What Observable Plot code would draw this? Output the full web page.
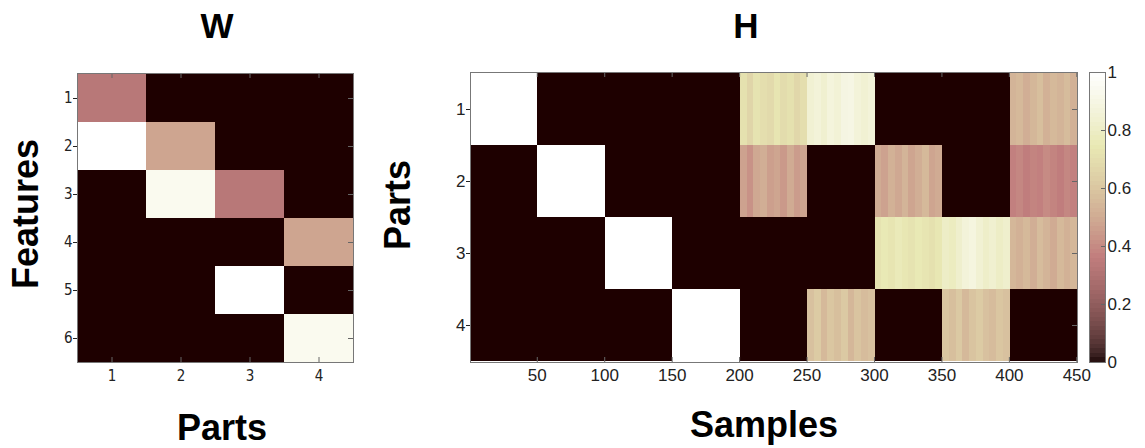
<!DOCTYPE html>
<html>
<head>
<meta charset="utf-8">
<script src="https://cdn.jsdelivr.net/npm/d3@7"></script>
<script src="https://cdn.jsdelivr.net/npm/@observablehq/plot@0.6"></script>
<style>
  body { margin: 0; background: #fff; }
  #root { position: relative; width: 1145px; height: 448px; overflow: hidden; font-family: "Liberation Sans", Arial, sans-serif; }
  .panel { position: absolute; top: 0; }
  .panel svg { overflow: visible; background: transparent; }
  .lbl { position: absolute; font-weight: bold; font-size: 36px; line-height: 1; color: #000; white-space: nowrap; }
</style>
</head>
<body>
<div id="root"></div>
<script>
// ---- W: features x parts ----
const wParts = [1, 2, 3, 4];
const wFeatures = [1, 2, 3, 4, 5, 6];
const wRow1 = [0.33, 0, 0, 0];
const wRow2 = [1, 0.48, 0, 0];
const wRow3 = [0, 0.94, 0.33, 0];
const wRow4 = [0, 0, 0, 0.48];
const wRow5 = [0, 0, 1, 0];
const wRow6 = [0, 0, 0, 0.94];
const wRows = [wRow1, wRow2, wRow3, wRow4, wRow5, wRow6];

// ---- H: parts x samples, in blocks of 50 samples ----
// a number is a flat block; a list gives the stripes across the block (5 samples each)
const hParts = [1, 2, 3, 4];
const blockSize = 50;
const hRow1 = [1, 0, 0, 0,
  [0.71, 0.66, 0.72, 0.70, 0.68, 0.73, 0.69, 0.71, 0.67, 0.70],
  [0.84, 0.86, 0.83, 0.87, 0.85, 0.89, 0.90, 0.86, 0.84, 0.86],
  0, 0,
  [0.53, 0.55, 0.51, 0.54, 0.57, 0.52, 0.55, 0.53, 0.56, 0.52]];
const hRow2 = [0, 1, 0, 0,
  [0.47, 0.42, 0.49, 0.51, 0.46, 0.48, 0.44, 0.50, 0.45, 0.48],
  0,
  [0.50, 0.47, 0.52, 0.49, 0.53, 0.48, 0.51, 0.55, 0.48, 0.50],
  0,
  [0.37, 0.39, 0.36, 0.38, 0.37, 0.40, 0.38, 0.36, 0.39, 0.37]];
const hRow3 = [0, 0, 1, 0, 0, 0,
  [0.72, 0.75, 0.73, 0.76, 0.74, 0.72, 0.75, 0.73, 0.71, 0.74],
  [0.80, 0.78, 0.82, 0.86, 0.88, 0.84, 0.81, 0.83, 0.80, 0.82],
  [0.54, 0.52, 0.55, 0.51, 0.56, 0.53, 0.50, 0.55, 0.52, 0.54]];
const hRow4 = [0, 0, 0, 1, 0,
  [0.58, 0.62, 0.55, 0.60, 0.57, 0.61, 0.54, 0.59, 0.56, 0.58],
  0,
  [0.60, 0.57, 0.61, 0.55, 0.59, 0.62, 0.58, 0.56, 0.60, 0.58],
  0];
const hRows = [hRow1, hRow2, hRow3, hRow4];
const sampleTicks = [50, 100, 150, 200, 250, 300, 350, 400, 450];
const colorTicks = [0, 0.2, 0.4, 0.6, 0.8, 1];

// MATLAB-style "pink" colormap: sqrt((2*gray + hot) / 3)
function pink(t) {
  t = Math.max(0, Math.min(1, t));
  const x = t * 63;
  const clamp = v => Math.max(0, Math.min(1, v));
  const hr = clamp((x + 1) / 24);
  const hg = clamp((x + 1 - 24) / 24);
  const hb = clamp((x + 1 - 48) / 16);
  const f = h => Math.round(255 * Math.sqrt((2 * t + h) / 3));
  return `rgb(${f(hr)},${f(hg)},${f(hb)})`;
}
const colorScale = {type: "linear", domain: [0, 1], interpolate: pink};

const wData = wRows.flatMap((row, i) => row.map((v, j) => ({feature: wFeatures[i], part: wParts[j], value: v})));

const hData = [];
hRows.forEach((row, r) => {
  row.forEach((blk, b) => {
    const start = b * blockSize + 0.5;
    if (Array.isArray(blk)) {
      const w = blockSize / blk.length;
      blk.forEach((v, k) => hData.push({part: hParts[r], x1: start + k * w, x2: start + (k + 1) * w, value: v}));
    } else {
      hData.push({part: hParts[r], x1: start, x2: start + blockSize, value: blk});
    }
  });
});

const root = document.getElementById("root");
function place(node, left) {
  const d = document.createElement("div");
  d.className = "panel";
  d.style.left = left + "px";
  d.appendChild(node);
  root.appendChild(d);
}
function label(text, x, y, size, rotate) {
  const d = document.createElement("div");
  d.className = "lbl";
  d.textContent = text;
  d.style.fontSize = size + "px";
  d.style.left = x + "px";
  d.style.top = y + "px";
  d.style.transform = `translate(-50%, -50%)${rotate ? " rotate(-90deg)" : ""}`;
  root.appendChild(d);
}
const tickGrey = "#666";

// W heatmap
const wPlot = Plot.plot({
  width: 370, height: 448,
  marginLeft: 77, marginRight: 17, marginTop: 73, marginBottom: 86,
  style: {fontFamily: "'Liberation Sans Narrow', 'DejaVu Sans Condensed', sans-serif", fontSize: "15px", color: "#222", background: "transparent", overflow: "visible"},
  x: {type: "band", domain: wParts, padding: 0, label: null},
  y: {type: "band", domain: wFeatures, padding: 0, label: null},
  color: colorScale,
  marks: [
    Plot.cell(wData, {x: "part", y: "feature", fill: "value", inset: 0, shapeRendering: "crispEdges"}),
    Plot.tickX(wParts, {x: d => d, insetTop: 284, stroke: tickGrey}),
    Plot.tickX(wParts, {x: d => d, insetBottom: 284, stroke: tickGrey}),
    Plot.tickY(wFeatures, {y: d => d, insetLeft: 271, stroke: tickGrey}),
    Plot.axisX({tickSize: 0, tickPadding: 8}),
    Plot.axisY({tickSize: 4, tickPadding: 1}),
    Plot.frame({stroke: "#777"})
  ]
});
place(wPlot, 0);

// H heatmap
const hPlot = Plot.plot({
  width: 715, height: 448,
  marginLeft: 100, marginRight: 8, marginTop: 72, marginBottom: 86,
  style: {fontFamily: "'Liberation Sans', Arial, sans-serif", fontSize: "17px", color: "#222", background: "transparent", overflow: "visible"},
  x: {domain: [0.5, 450.5], label: null},
  y: {type: "band", domain: hParts, padding: 0, label: null},
  color: colorScale,
  marks: [
    Plot.barX(hData, {x1: "x1", x2: "x2", y: "part", fill: "value", inset: 0, shapeRendering: "crispEdges"}),
    Plot.tickX(sampleTicks, {x: d => d, insetTop: 285, stroke: tickGrey}),
    Plot.tickX(sampleTicks, {x: d => d, insetBottom: 285, stroke: tickGrey}),
    Plot.tickY(hParts, {y: d => d, insetLeft: 602, stroke: tickGrey}),
    Plot.axisX({ticks: sampleTicks, tickSize: 0, tickPadding: 6}),
    Plot.axisY({tickSize: 4, tickPadding: 1}),
    Plot.frame({stroke: "#777"})
  ]
});
place(hPlot, 370);

// Colour bar
const ramp = d3.range(64).map(i => ({y1: i / 64, y2: (i + 1) / 64, value: (i + 0.5) / 64}));
const barPlot = Plot.plot({
  width: 56, height: 448,
  marginLeft: 0, marginRight: 40, marginTop: 72, marginBottom: 86,
  style: {fontFamily: "'Liberation Sans', Arial, sans-serif", fontSize: "17px", color: "#222", background: "transparent", overflow: "visible"},
  y: {domain: [0, 1], label: null},
  color: colorScale,
  marks: [
    Plot.rect(ramp, {y1: "y1", y2: "y2", fill: "value", shapeRendering: "crispEdges"}),
    Plot.tickY(colorTicks.slice(1, -1), {y: d => d, insetLeft: 12, stroke: tickGrey}),
    Plot.axisY({anchor: "right", ticks: colorTicks, tickFormat: d => String(d), tickSize: 0, tickPadding: 2}),
    Plot.frame({stroke: "#777"})
  ]
});
place(barPlot, 1089);

// Titles and axis names
label("W", 217, 25, 35, false);
label("H", 746, 25, 35, false);
label("Features", 25.5, 213.5, 36, true);
label("Parts", 222, 428, 36, false);
label("Parts", 397.5, 205, 36, true);
label("Samples", 764, 425, 36, false);
</script>
</body>
</html>
